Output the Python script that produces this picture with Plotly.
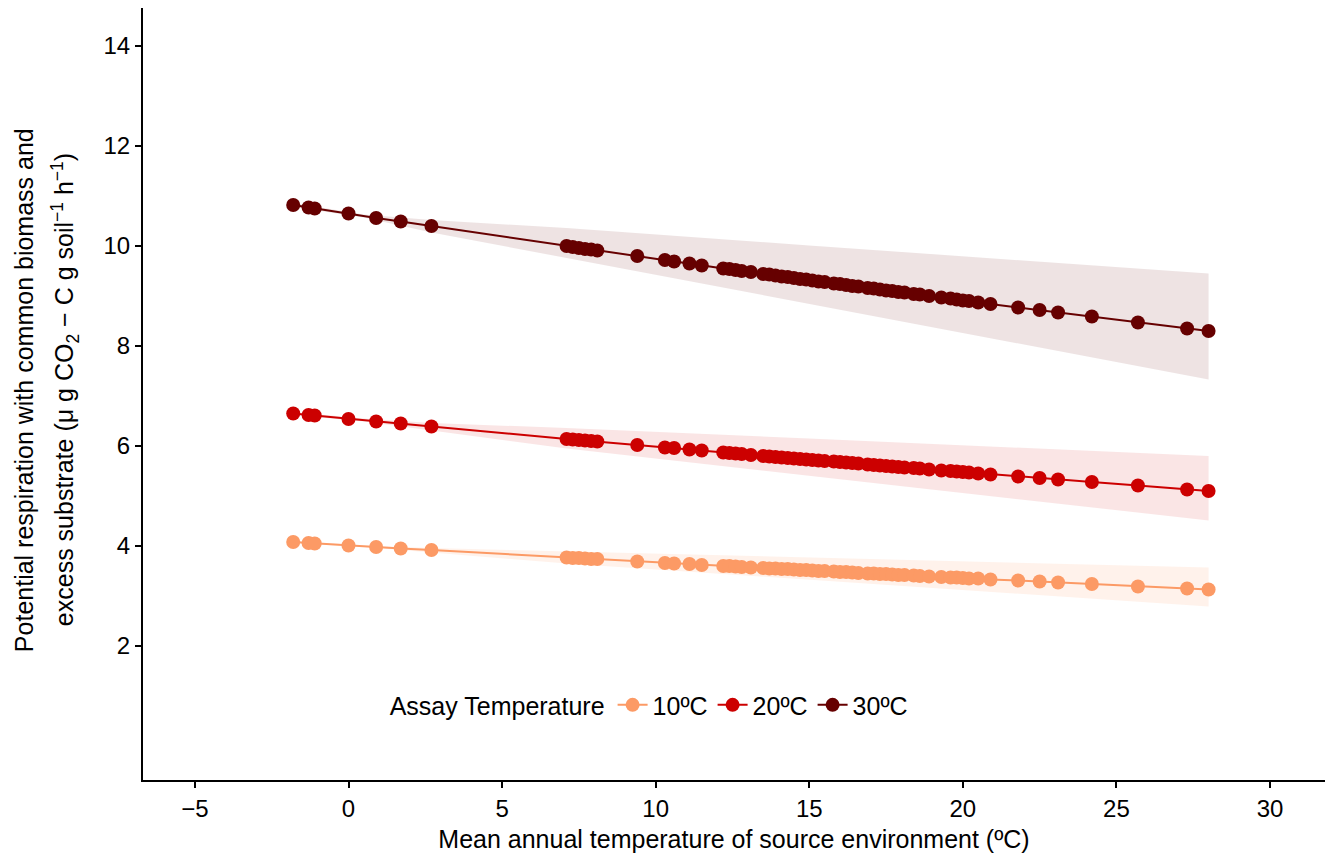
import plotly.graph_objects as go

# Mean annual temperature of source sites (ºC)
site_mat = [-1.8, -1.3, -1.1, 0.0, 0.9, 1.7, 2.7, 7.1, 7.3, 7.5, 7.7, 7.9, 8.1, 9.4,
            10.3, 10.6, 11.1, 11.5, 12.2, 12.4, 12.6, 12.8, 13.1, 13.5, 13.7, 13.9,
            14.1, 14.3, 14.5, 14.7, 14.9, 15.1, 15.3, 15.5, 15.8, 16.0, 16.2, 16.4,
            16.6, 16.9, 17.1, 17.3, 17.5, 17.7, 17.9, 18.1, 18.4, 18.6, 18.9, 19.3,
            19.6, 19.8, 20.0, 20.2, 20.5, 20.9, 21.8, 22.5, 23.1, 24.2, 25.7, 27.3, 28.0]

resp_30 = [10.82, 10.77, 10.75, 10.65, 10.56, 10.49, 10.40, 10.00, 9.98, 9.96, 9.94, 9.93,
           9.91, 9.80, 9.72, 9.69, 9.65, 9.61, 9.55, 9.54, 9.52, 9.50, 9.48, 9.44, 9.43,
           9.41, 9.39, 9.38, 9.36, 9.34, 9.33, 9.31, 9.29, 9.28, 9.25, 9.24, 9.22, 9.20,
           9.19, 9.16, 9.15, 9.13, 9.11, 9.10, 9.08, 9.07, 9.04, 9.03, 9.00, 8.97, 8.95,
           8.93, 8.91, 8.90, 8.87, 8.84, 8.77, 8.72, 8.67, 8.59, 8.47, 8.35, 8.30]

resp_20 = [6.65, 6.62, 6.61, 6.54, 6.49, 6.45, 6.39, 6.14, 6.13, 6.12, 6.11, 6.10, 6.09,
           6.02, 5.97, 5.96, 5.93, 5.91, 5.87, 5.86, 5.85, 5.84, 5.82, 5.80, 5.79, 5.78,
           5.77, 5.76, 5.75, 5.74, 5.73, 5.72, 5.71, 5.70, 5.69, 5.68, 5.67, 5.66, 5.65,
           5.63, 5.62, 5.61, 5.60, 5.59, 5.58, 5.57, 5.56, 5.55, 5.53, 5.51, 5.50, 5.49,
           5.48, 5.47, 5.45, 5.43, 5.39, 5.36, 5.33, 5.28, 5.21, 5.13, 5.10]

resp_10 = [4.08, 4.06, 4.05, 4.01, 3.98, 3.95, 3.92, 3.77, 3.76, 3.76, 3.75, 3.74, 3.74,
           3.69, 3.66, 3.65, 3.64, 3.62, 3.60, 3.60, 3.59, 3.58, 3.57, 3.56, 3.55, 3.55,
           3.54, 3.54, 3.53, 3.52, 3.52, 3.51, 3.50, 3.50, 3.49, 3.48, 3.48, 3.47, 3.46,
           3.45, 3.45, 3.44, 3.44, 3.43, 3.42, 3.42, 3.41, 3.40, 3.39, 3.38, 3.37, 3.37,
           3.36, 3.35, 3.35, 3.33, 3.31, 3.29, 3.27, 3.24, 3.19, 3.15, 3.13]

# Confidence band edges
band_x = [-1.8, 0.5, 2.7, 7.1, 15.0, 28.0]
upper_30 = [10.86, 10.63, 10.52, 10.36, 10.01, 9.45]
lower_30 = [10.78, 10.57, 10.27, 9.76, 8.85, 7.33]
upper_20 = [6.68, 6.55, 6.46, 6.36, 6.15, 5.80]
lower_20 = [6.62, 6.49, 6.31, 5.95, 5.40, 4.51]
upper_10 = [4.10, 4.01, 3.96, 3.89, 3.77, 3.57]
lower_10 = [4.06, 3.98, 3.87, 3.65, 3.32, 2.79]

series_names = ["10ºC", "20ºC", "30ºC"]
x_ticks = [-5, 0, 5, 10, 15, 20, 25, 30]
y_ticks = [2, 4, 6, 8, 10, 12, 14]

y_title_lines = [
    "Potential respiration with common biomass and",
    "excess substrate (μ g CO<sub>2</sub> − C g soil<sup>−1</sup> h<sup>−1</sup>)",
]
x_title = "Mean annual temperature of source environment (ºC)"
legend_title = "Assay Temperature"

colors = {"10ºC": "#FC9A65", "20ºC": "#CC0000", "30ºC": "#660000"}
fills = {"10ºC": "rgba(252,154,101,0.13)", "20ºC": "rgba(204,0,0,0.10)", "30ºC": "rgba(102,0,0,0.11)"}

data = {
    "10ºC": (resp_10, upper_10, lower_10),
    "20ºC": (resp_20, upper_20, lower_20),
    "30ºC": (resp_30, upper_30, lower_30),
}

fig = go.Figure()

# ribbons
for name in series_names:
    _, up, lo = data[name]
    fig.add_trace(go.Scatter(
        x=band_x + band_x[::-1], y=up + lo[::-1],
        fill="toself", fillcolor=fills[name], line=dict(width=0),
        mode="lines", showlegend=False, hoverinfo="skip"))

# lines + points
for name in series_names:
    ys, _, _ = data[name]
    fig.add_trace(go.Scatter(
        x=site_mat, y=ys, mode="lines+markers", name=name,
        line=dict(color=colors[name], width=2),
        marker=dict(color=colors[name], size=14)))

font_family = "Liberation Sans, Arial, sans-serif"

# y-axis title as two rotated lines
for txt, shift in zip(y_title_lines, [-119, -78]):
    fig.add_annotation(
        text=txt, xref="paper", yref="paper", x=0, y=0.505,
        xanchor="center", yanchor="middle", xshift=shift,
        textangle=-90, showarrow=False,
        font=dict(size=25, color="black", family=font_family))

fig.update_layout(
    width=1325, height=846,
    margin=dict(l=135, r=8, t=0, b=74),
    paper_bgcolor="white", plot_bgcolor="white",
    font=dict(family=font_family, size=24, color="black"),
    legend=dict(
        orientation="h", x=0.207, y=0.097, xanchor="left", yanchor="middle",
        title=dict(text=legend_title, font=dict(size=25)),
        font=dict(size=25), bgcolor="rgba(0,0,0,0)", itemwidth=30,
    ),
    xaxis=dict(
        range=[-6.69, 31.79], tickvals=x_ticks, showgrid=False, zeroline=False,
        showline=True, linecolor="black", linewidth=2,
        ticks="outside", ticklen=6, tickwidth=1.5, tickcolor="black",
        tickfont=dict(size=24, color="black"),
        title=dict(text=x_title, font=dict(size=25), standoff=10),
    ),
    yaxis=dict(
        range=[-0.68, 14.76], tickvals=y_ticks, showgrid=False, zeroline=False,
        showline=True, linecolor="black", linewidth=2,
        ticks="outside", ticklen=6, tickwidth=1.5, tickcolor="black",
        tickfont=dict(size=24, color="black"),
    ),
)

fig.write_html("out.html")
